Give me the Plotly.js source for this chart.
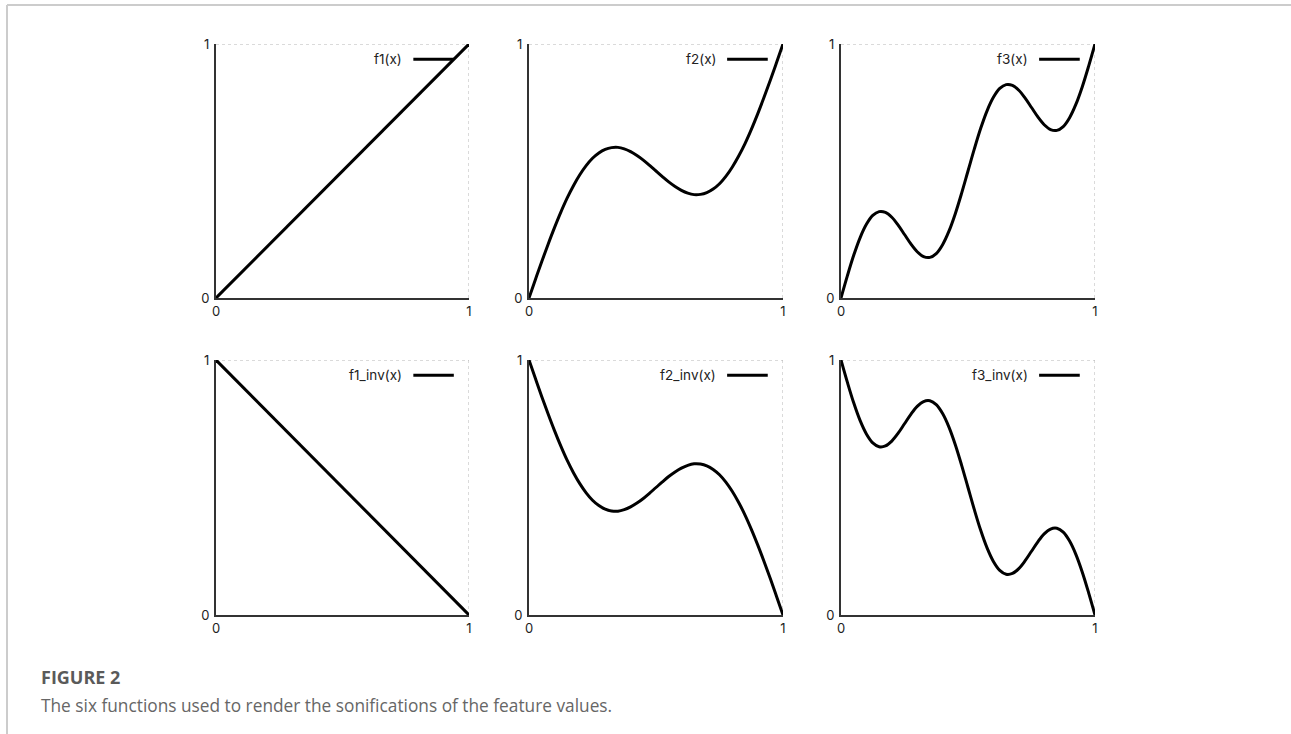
<!DOCTYPE html>
<html>
<head>
<meta charset="utf-8">
<script src="https://cdn.plot.ly/plotly-3.0.1.min.js"></script>
<style>
html,body{margin:0;padding:0;background:#fff;}
#chart{width:1291px;height:734px;}
</style>
</head>
<body>
<div id="chart"></div>
<script>
// x sample positions
const xsLin = [0, 1];
const xs = [0,0.025,0.05,0.075,0.10,0.125,0.15,0.175,0.20,0.225,0.25,0.275,0.30,0.325,0.35,0.375,0.40,0.425,0.45,0.475,0.50,
            0.525,0.55,0.575,0.60,0.625,0.65,0.675,0.70,0.725,0.75,0.775,0.80,0.825,0.85,0.875,0.90,0.925,0.95,0.975,1.0];
const f1 = [0, 1];
const f1_inv = [1, 0];
const f2 = [0,0.072,0.143,0.211,0.276,0.337,0.393,0.442,0.485,0.521,0.55,0.571,0.585,0.592,0.593,0.587,0.576,0.561,0.543,0.522,0.50,
            0.478,0.457,0.439,0.424,0.413,0.407,0.408,0.415,0.429,0.45,0.479,0.515,0.558,0.607,0.663,0.724,0.789,0.857,0.928,1.0];
const f2_inv = [1.0,0.928,0.857,0.789,0.724,0.663,0.607,0.558,0.515,0.479,0.45,0.429,0.415,0.408,0.407,0.413,0.424,0.439,0.457,0.478,0.50,
            0.522,0.543,0.561,0.576,0.587,0.593,0.592,0.585,0.571,0.55,0.521,0.485,0.442,0.393,0.337,0.276,0.211,0.143,0.072,0];
const f3 = [0,0.087,0.168,0.237,0.290,0.325,0.340,0.337,0.318,0.287,0.25,0.213,0.182,0.163,0.160,0.175,0.210,0.263,0.332,0.413,0.50,
            0.587,0.668,0.737,0.790,0.825,0.840,0.837,0.818,0.787,0.75,0.713,0.682,0.663,0.660,0.675,0.710,0.763,0.832,0.913,1.0];
const f3_inv = [1.0,0.913,0.832,0.763,0.710,0.675,0.660,0.663,0.682,0.713,0.75,0.787,0.818,0.837,0.840,0.825,0.790,0.737,0.668,0.587,0.50,
            0.413,0.332,0.263,0.210,0.175,0.160,0.163,0.182,0.213,0.25,0.287,0.318,0.337,0.340,0.325,0.290,0.237,0.168,0.087,0];
const seriesNames = ['f1(x)','f2(x)','f3(x)','f1_inv(x)','f2_inv(x)','f3_inv(x)'];
const seriesX = [xsLin, xs, xs, xsLin, xs, xs];
const seriesY = [f1, f2, f3, f1_inv, f2_inv, f3_inv];
const tickVals = [0,1];
const tickText = ['0','1'];
const captionTitle = 'FIGURE 2';
const captionText = 'The six functions used to render the sonifications of the feature values.';

const W = 1291, H = 734;
const colPx = [[216,469],[529,783],[841,1095]];
const rowPx = [[44,298],[360,615]];
const FONT = 'Inter, Noto Sans, DejaVu Sans, sans-serif';

const data = [];
const layout = {
  width: W, height: H,
  margin: {l:0,r:0,t:0,b:0},
  paper_bgcolor: '#fff', plot_bgcolor: '#fff',
  showlegend: false,
  font: {family: FONT, color: '#222', size: 13},
  shapes: [], annotations: []
};

for (let i = 0; i < 6; i++) {
  const r = Math.floor(i/3), c = i % 3;
  const n = i === 0 ? '' : String(i+1);
  const xa = 'x' + n, ya = 'y' + n;
  data.push({
    x: seriesX[i], y: seriesY[i], xaxis: xa, yaxis: ya,
    type: 'scatter', mode: 'lines', name: seriesNames[i],
    line: {color: '#000', width: 3, shape: 'spline', smoothing: 1}
  });
  const common = {
    range: [0,1], tickmode: 'array', tickvals: tickVals, ticktext: tickText,
    ticks: 'inside', ticklen: 4, tickwidth: 2, tickcolor: '#333',
    showline: true, linecolor: '#333', linewidth: 2,
    showgrid: false, zeroline: false, fixedrange: true,
    tickfont: {family: FONT, size: 13, color: '#222'}
  };
  layout['xaxis' + n] = Object.assign({}, common, {
    domain: [colPx[c][0]/W, colPx[c][1]/W], anchor: ya
  });
  layout['yaxis' + n] = Object.assign({}, common, {
    domain: [1 - rowPx[r][1]/H, 1 - rowPx[r][0]/H], anchor: xa, ticklabelstandoff: 2
  });
  // dotted top and right frame
  layout.shapes.push({type:'line', xref:xa, yref:ya, x0:0, x1:1, y0:1, y1:1, line:{color:'#b5b5b5', width:1, dash:'dot'}, layer:'below'});
  layout.shapes.push({type:'line', xref:xa, yref:ya, x0:1, x1:1, y0:0, y1:1, line:{color:'#b5b5b5', width:1, dash:'dot'}, layer:'below'});
  // legend sample
  layout.shapes.push({type:'line', xref:xa, yref:ya, x0:0.78, x1:0.94, y0:0.94, y1:0.94, line:{color:'#000', width:3}});
  layout.annotations.push({xref:xa, yref:ya, x:0.745, y:0.94, text:seriesNames[i], showarrow:false, xanchor:'right', yanchor:'middle', font:{family: FONT, size:13.5, color:'#222'}});
}

// outer border
layout.shapes.push({type:'line', xref:'paper', yref:'paper', x0:7/W, x1:1, y0:1-5/H, y1:1-5/H, line:{color:'#ccc', width:2}});
layout.shapes.push({type:'line', xref:'paper', yref:'paper', x0:7/W, x1:7/W, y0:0, y1:1-5/H, line:{color:'#ccc', width:2}});

// caption
layout.annotations.push({xref:'paper', yref:'paper', x:39/W, y:1-677/H, xanchor:'left', yanchor:'middle', showarrow:false,
  text:'<b>' + captionTitle + '</b>', font:{family:'Open Sans, sans-serif', size:18, color:'#5a5a5a'}});
layout.annotations.push({xref:'paper', yref:'paper', x:39/W, y:1-705/H, xanchor:'left', yanchor:'middle', showarrow:false,
  text: captionText, font:{family:'Open Sans, sans-serif', size:17.3, color:'#666'}});

Plotly.newPlot('chart', data, layout, {displayModeBar:false, staticPlot:true});
</script>
</body>
</html>
